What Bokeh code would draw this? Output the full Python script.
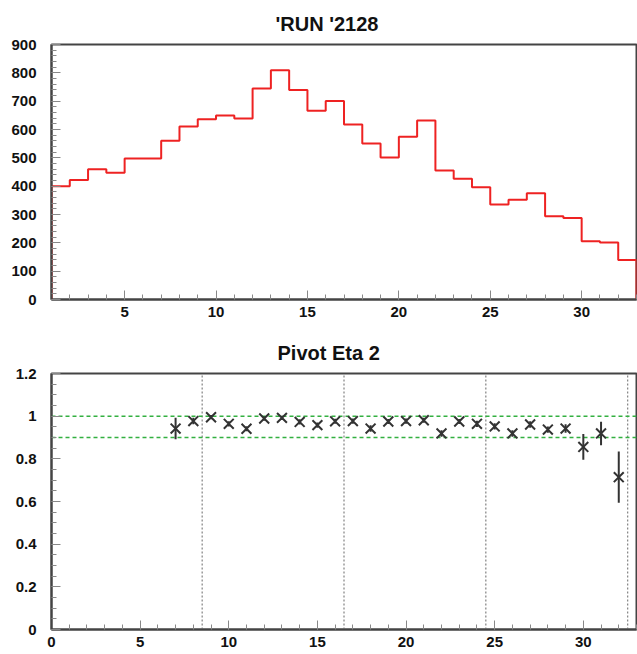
from bokeh.plotting import figure
from bokeh.layouts import column
from bokeh.models import Range1d, FixedTicker
from bokeh.embed import file_html
from bokeh.resources import INLINE

# ---------------- data ----------------
hist_edges_start = 1
hist_counts = [400, 422, 460, 447, 498, 498, 560, 611, 636, 649, 639, 745,
               809, 739, 666, 701, 618, 551, 501, 574, 632, 455, 426, 396,
               335, 352, 375, 294, 288, 206, 201, 139]

eff_x = [7, 8, 9, 10, 11, 12, 13, 14, 15, 16, 17, 18, 19, 20, 21, 22, 23,
         24, 25, 26, 27, 28, 29, 30, 31, 32]
eff_y = [0.942, 0.977, 0.995, 0.964, 0.941, 0.989, 0.992, 0.973, 0.958,
         0.976, 0.977, 0.942, 0.975, 0.977, 0.981, 0.919, 0.975, 0.964,
         0.952, 0.919, 0.961, 0.937, 0.942, 0.856, 0.919, 0.714]
eff_err = [0.05, 0.015, 0.01, 0.012, 0.012, 0.01, 0.01, 0.012, 0.012, 0.012,
           0.012, 0.015, 0.012, 0.012, 0.012, 0.015, 0.012, 0.015, 0.015,
           0.015, 0.015, 0.015, 0.02, 0.06, 0.055, 0.12]

top_title = "'RUN '2128"
bottom_title = "Pivot Eta 2"
ref_lines = [1.0, 0.9]
sector_lines = [8.5, 16.5, 24.5, 32.5]

FONT = "Liberation Sans"


def style(p, title_offset):
    p.outline_line_color = "#444444"
    p.outline_line_width = 2
    p.background_fill_color = "white"
    p.border_fill_color = "white"
    p.xgrid.visible = False
    p.ygrid.visible = False
    p.title.text_font = FONT
    p.title.text_font_style = "bold"
    p.title.text_font_size = "20px"
    p.title.align = "left"
    p.title.offset = title_offset
    p.title.standoff = 20
    p.title.text_color = "#111111"
    for ax in (p.xaxis[0], p.yaxis[0]):
        ax.axis_line_color = "#444444"
        ax.axis_line_width = 2
        ax.major_tick_in = 9
        ax.major_tick_out = 0
        ax.minor_tick_in = 5
        ax.minor_tick_out = 0
        ax.major_tick_line_color = "#888888"
        ax.minor_tick_line_color = "#888888"
        ax.major_label_text_font = FONT
        ax.major_label_text_font_style = "bold"
        ax.major_label_text_font_size = "15px"
        ax.major_label_text_color = "#111111"
    p.xaxis.major_label_standoff = 7
    p.yaxis.major_label_standoff = 15


# ---------------- top histogram ----------------
p1 = figure(width=637, height=327, output_backend="svg", toolbar_location=None,
            x_range=Range1d(1, 33), y_range=Range1d(0, 900),
            min_border_left=50, min_border_right=1, min_border_top=44,
            min_border_bottom=28, title=top_title)
style(p1, 224)
p1.xaxis.ticker = FixedTicker(ticks=[5, 10, 15, 20, 25, 30],
                              minor_ticks=list(range(1, 34)))
p1.yaxis.ticker = FixedTicker(ticks=list(range(0, 901, 100)),
                              minor_ticks=list(range(0, 901, 20)))

xs, ys = [], []
n = len(hist_counts)
for i, c in enumerate(hist_counts):
    lo = hist_edges_start + i
    if i == 0:
        xs.append(lo); ys.append(0)
    xs += [lo, lo + 1]
    ys += [c, c]
xs.append(hist_edges_start + n); ys.append(0)
p1.line(xs, ys, line_color="#ee2222", line_width=2)

# ---------------- bottom efficiency ----------------
p2 = figure(width=637, height=327, output_backend="svg", toolbar_location=None,
            x_range=Range1d(0, 33), y_range=Range1d(0, 1.2),
            min_border_left=51, min_border_right=1, min_border_top=46,
            min_border_bottom=25, title=bottom_title)
style(p2, 226)
p2.xaxis.ticker = FixedTicker(ticks=[0, 5, 10, 15, 20, 25, 30],
                              minor_ticks=list(range(0, 34)))
p2.yaxis.ticker = FixedTicker(ticks=[0, 0.2, 0.4, 0.6, 0.8, 1.0, 1.2],
                              minor_ticks=[i * 0.05 for i in range(25)])
p2.yaxis.major_label_overrides = {0: "0", 1: "1"}

x_lo, x_hi = p2.x_range.start, p2.x_range.end
y_lo, y_hi = p2.y_range.start, p2.y_range.end
p2.segment(x0=sector_lines, y0=[y_lo] * len(sector_lines),
           x1=sector_lines, y1=[y_hi] * len(sector_lines),
           line_color="#8a8a8a", line_dash="2 2", line_width=1.3)
p2.segment(x0=[x_lo] * len(ref_lines), y0=ref_lines,
           x1=[x_hi] * len(ref_lines), y1=ref_lines,
           line_color="#33b040", line_dash="4 3", line_width=1.5)

lo_err = [y - e for y, e in zip(eff_y, eff_err)]
hi_err = [y + e for y, e in zip(eff_y, eff_err)]
p2.segment(x0=eff_x, y0=lo_err, x1=eff_x, y1=hi_err, line_color="#333333",
           line_width=2)
p2.scatter(eff_x, eff_y, marker="x", size=14, line_width=2,
           line_color="#333333")

layout = column(p1, p2, spacing=0)
open("out.html", "w").write(file_html(layout, INLINE))
